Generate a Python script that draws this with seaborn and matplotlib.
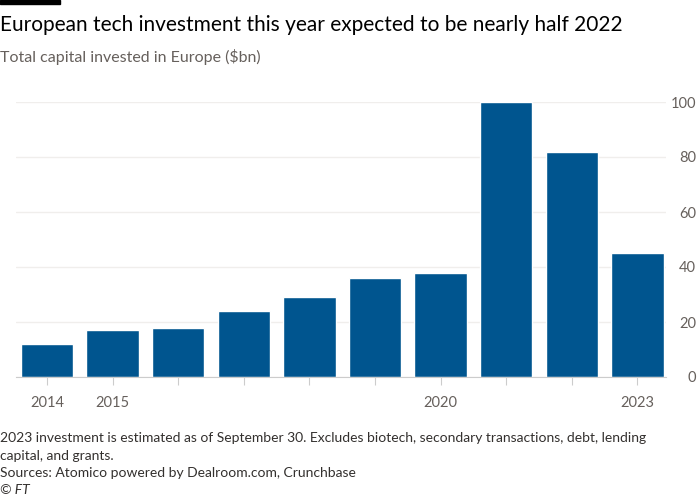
import matplotlib
matplotlib.use("Agg")
import pandas as pd
import numpy as np
import seaborn as sns
import matplotlib.pyplot as plt

years = [2014, 2015, 2016, 2017, 2018, 2019, 2020, 2021, 2022, 2023]
invested = [12, 17, 18, 24, 29, 36, 38, 100, 82, 45]
shown_years = [2014, 2015, 2020, 2023]
y_ticks = [0, 20, 40, 60, 80, 100]

sns.set_theme(style="white")
plt.rcParams['font.family'] = ['Lato', 'DejaVu Sans']

data = pd.DataFrame({'Year': [str(y) for y in years], 'Invested': invested})

fig = plt.figure(figsize=(7, 5), dpi=100)
ax = fig.add_axes([0.023, 0.246, 0.928, 0.55])

sns.barplot(x='Year', y='Invested', data=data, color='#00558f', width=0.8,
            saturation=1, ax=ax)

ax.set_xlim(-0.47, 9.43)
ax.set_ylim(0, 100)
ax.set_xlabel('')
ax.set_ylabel('')

# y axis on the right, labels right-aligned
ax.yaxis.tick_right()
ax.set_yticks(y_ticks)
ax.set_yticklabels([str(v) for v in y_ticks], ha='right')
ax.tick_params(axis='y', length=0, pad=22, labelsize=10.5, labelcolor='#66605c')
ax.yaxis.grid(True, color='#f0eeec', linewidth=1)
ax.set_axisbelow(True)

ax.set_xticks(range(len(years)))
ax.set_xticklabels([str(y) if y in shown_years else '' for y in years])
ax.tick_params(axis='x', length=6, width=0.8, color='#cccccc', pad=8,
               labelsize=10.5, labelcolor='#66605c', bottom=True)

for s in ['top', 'right', 'left']:
    ax.spines[s].set_visible(False)
ax.spines['bottom'].set_color('#cccccc')
ax.spines['bottom'].set_linewidth(0.8)

# header
fig.add_artist(plt.Rectangle((0, 0.992), 0.086, 0.008, color='black',
                             transform=fig.transFigure))
fig.text(0.0, 0.95, 'European tech investment this year expected to be nearly half 2022',
         fontsize=15, color='#000000', va='center')
fig.text(0.0, 0.886, 'Total capital invested in Europe ($bn)',
         fontsize=11.5, color='#66605c', va='center')

# footer
foot = '#33302e'
fig.text(0.0, 0.124, '2023 investment is estimated as of September 30. Excludes biotech, secondary transactions, debt, lending',
         fontsize=10, color=foot, va='center')
fig.text(0.0, 0.089, 'capital, and grants.', fontsize=10, color=foot, va='center')
fig.text(0.0, 0.054, 'Sources: Atomico powered by Dealroom.com, Crunchbase',
         fontsize=10, color=foot, va='center')
fig.text(0.0, 0.02, '© FT', fontsize=10, color=foot, va='center', style='italic')

plt.savefig('out.png', dpi=100, facecolor='white')
